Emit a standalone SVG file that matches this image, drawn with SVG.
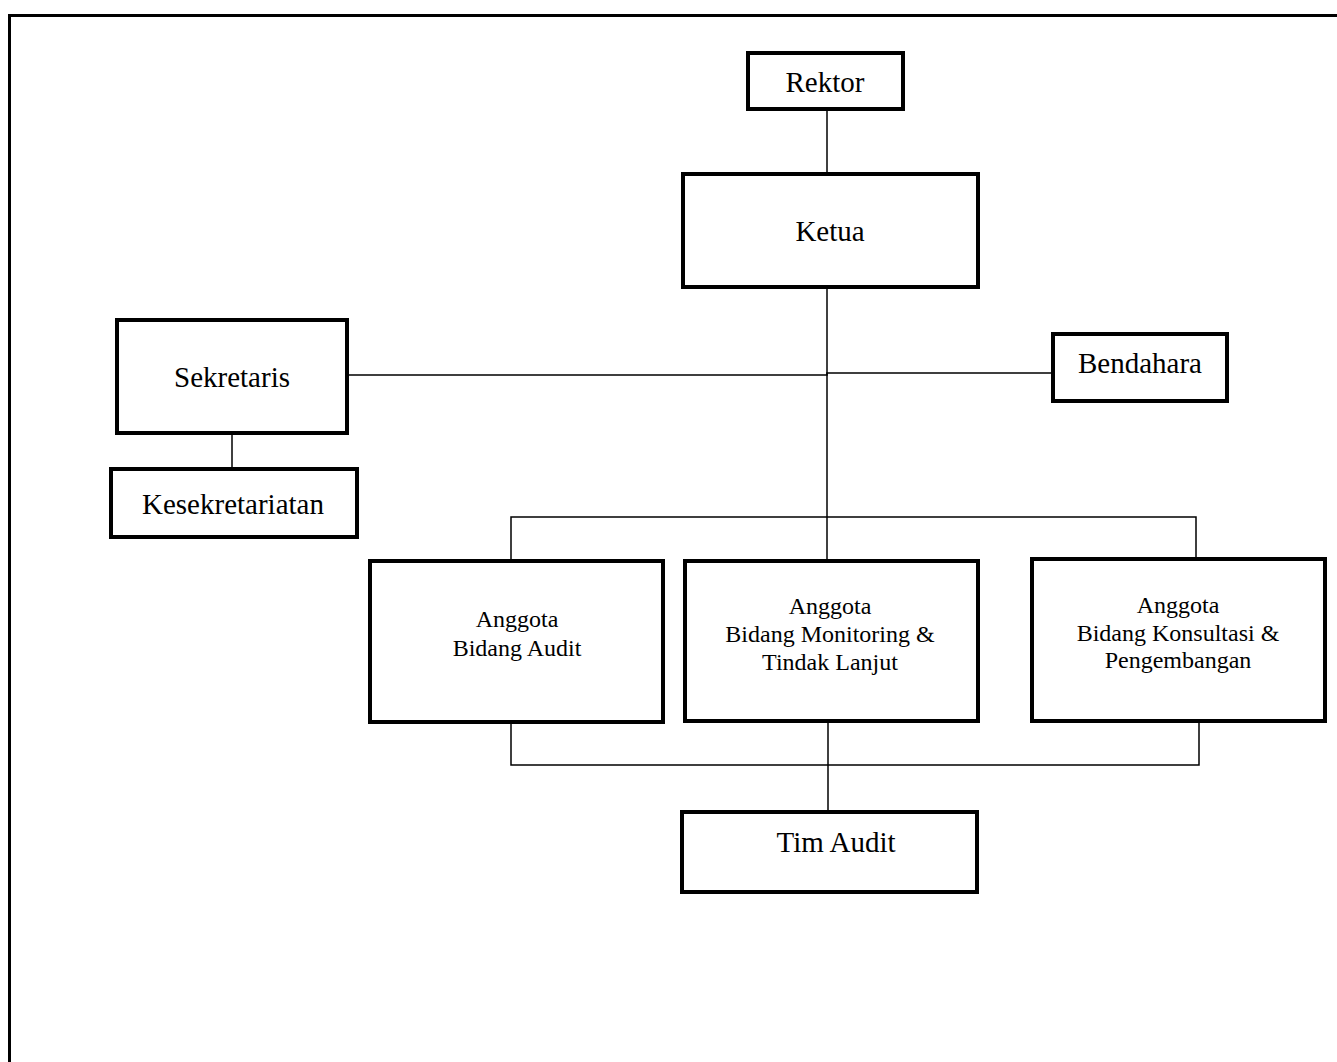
<svg xmlns="http://www.w3.org/2000/svg" width="1337" height="1062" viewBox="0 0 1337 1062">
<style>
.box{fill:#fff;stroke:#000;stroke-width:4}
.conn{fill:none;stroke:#000;stroke-width:1.5}
.frame{fill:none;stroke:#000;stroke-width:3}
.t{font-family:"Liberation Serif","Times New Roman",serif;font-size:29px;fill:#000;text-anchor:middle}
.s{font-family:"Liberation Serif","Times New Roman",serif;font-size:24px;fill:#000;text-anchor:middle}
</style>
<rect width="1337" height="1062" fill="#fff"/>
<path class="frame" d="M9.5,1062 V15.5 H1337"/>
<g id="connectors">
<line class="conn" x1="827" y1="109" x2="827" y2="173"/>
<line class="conn" x1="827" y1="287" x2="827" y2="560"/>
<path class="conn" d="M347,375 H827 V373 H1052"/>
<line class="conn" x1="232" y1="433" x2="232" y2="468"/>
<path class="conn" d="M511,560 V517 H1196 V558"/>
<path class="conn" d="M511,722 V765 H1199 V721"/>
<line class="conn" x1="828" y1="721" x2="828" y2="811"/>
</g>
<g id="rektor"><rect class="box" x="748" y="53" width="155" height="56"/><text class="t" x="825" y="92">Rektor</text></g>
<g id="ketua"><rect class="box" x="683" y="174" width="295" height="113"/><text class="t" x="830" y="241">Ketua</text></g>
<g id="sekretaris"><rect class="box" x="117" y="320" width="230" height="113"/><text class="t" x="232" y="387">Sekretaris</text></g>
<g id="kesekretariatan"><rect class="box" x="111" y="469" width="246" height="68"/><text class="t" x="233" y="514">Kesekretariatan</text></g>
<g id="bendahara"><rect class="box" x="1053" y="334" width="174" height="67"/><text class="t" x="1140" y="373">Bendahara</text></g>
<g id="bidang-audit"><rect class="box" x="370" y="561" width="293" height="161"/><text class="s" x="517" y="627">Anggota</text><text class="s" x="517" y="656">Bidang Audit</text></g>
<g id="bidang-monitoring"><rect class="box" x="685" y="561" width="293" height="160"/><text class="s" x="830" y="614">Anggota</text><text class="s" x="830" y="642">Bidang Monitoring &amp;</text><text class="s" x="830" y="670">Tindak Lanjut</text></g>
<g id="bidang-konsultasi"><rect class="box" x="1032" y="559" width="293" height="162"/><text class="s" x="1178" y="613">Anggota</text><text class="s" x="1178" y="641">Bidang Konsultasi &amp;</text><text class="s" x="1178" y="668">Pengembangan</text></g>
<g id="tim-audit"><rect class="box" x="682" y="812" width="295" height="80"/><text class="t" x="836" y="852">Tim Audit</text></g>
</svg>
